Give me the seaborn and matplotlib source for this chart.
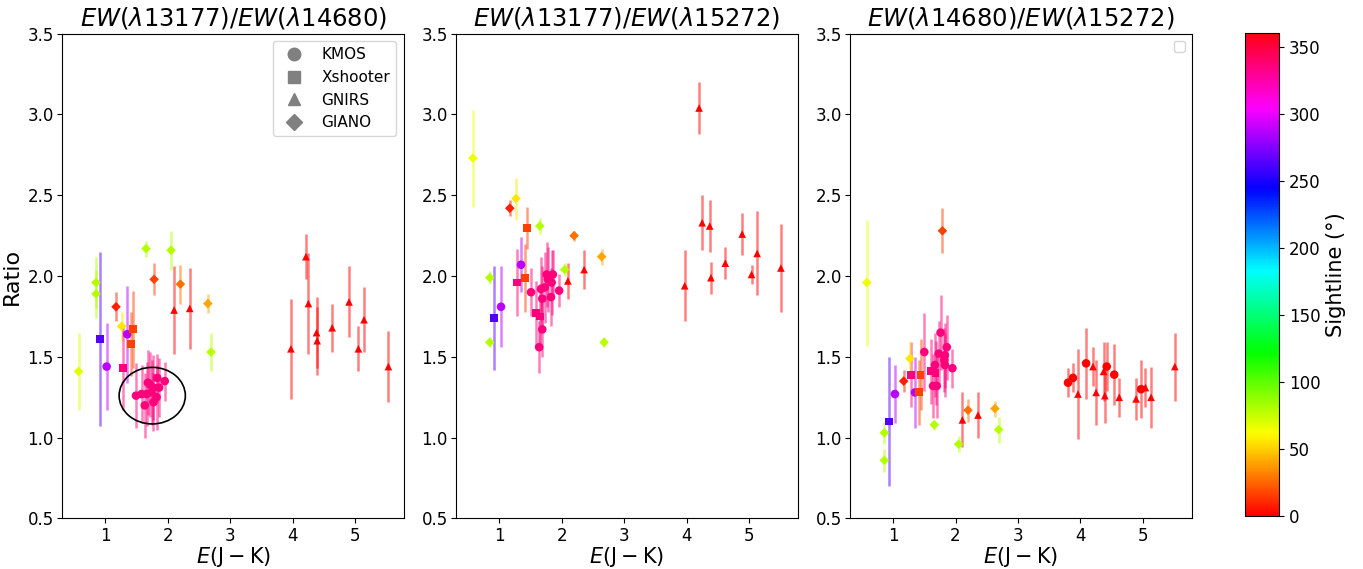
import numpy as np
import pandas as pd
import matplotlib
matplotlib.use("Agg")
import matplotlib.pyplot as plt
import seaborn as sns
from matplotlib.lines import Line2D
from matplotlib.patches import Ellipse
from matplotlib.colors import Normalize
from matplotlib.cm import ScalarMappable

# ---------------- data ----------------
titles = [r"$EW(\lambda13177)/EW(\lambda14680)$",
          r"$EW(\lambda13177)/EW(\lambda15272)$",
          r"$EW(\lambda14680)/EW(\lambda15272)$"]
instruments = ["KMOS", "Xshooter", "GNIRS", "GIANO"]

# Panel 1: EW13177/EW14680
p1_ejk = [0.57, 0.85, 0.85, 0.92, 1.02, 1.17, 1.26, 1.28, 1.35, 1.44, 1.41, 1.65, 1.78, 2.05,
          2.10, 2.20, 2.35, 2.64, 2.69,
          3.97, 4.21, 4.25, 4.38, 4.39, 4.63, 4.90, 5.05, 5.14, 5.53,
          1.49, 1.58, 1.66, 1.68, 1.77, 1.83, 1.86, 1.82, 1.77, 1.63, 1.95, 1.74, 1.71]
p1_ratio = [1.41, 1.96, 1.89, 1.61, 1.44, 1.81, 1.69, 1.43, 1.64, 1.67, 1.58, 2.17, 1.98, 2.16,
            1.79, 1.95, 1.80, 1.83, 1.53,
            1.55, 2.12, 1.83, 1.65, 1.60, 1.68, 1.84, 1.55, 1.73, 1.44,
            1.26, 1.27, 1.27, 1.34, 1.31, 1.37, 1.31, 1.25, 1.22, 1.20, 1.35, 1.28, 1.33]
p1_err = [0.24, 0.16, 0.15, 0.54, 0.27, 0.09, 0.09, 0.26, 0.30, 0.24, 0.20, 0.05, 0.10, 0.12,
          0.27, 0.12, 0.25, 0.06, 0.12,
          0.31, 0.14, 0.31, 0.22, 0.21, 0.15, 0.22, 0.14, 0.20, 0.22,
          0.20, 0.18, 0.20, 0.20, 0.20, 0.15, 0.18, 0.20, 0.18, 0.20, 0.12, 0.20, 0.20]
p1_angle = [68, 80, 80, 264, 288, 8, 56, 336, 288, 16, 16, 80, 16, 80,
            0, 28, 0, 40, 78,
            0, 0, 0, 0, 0, 0, 0, 0, 0, 0,
            336, 336, 336, 336, 336, 336, 336, 336, 336, 336, 336, 336, 336]
p1_inst = ["GIANO", "GIANO", "GIANO", "Xshooter", "KMOS", "GIANO", "GIANO", "Xshooter", "KMOS",
           "Xshooter", "Xshooter", "GIANO", "GIANO", "GIANO",
           "GNIRS", "GIANO", "GNIRS", "GIANO", "GIANO"] + ["GNIRS"] * 10 + ["KMOS"] * 13

# Panel 2: EW13177/EW15272
p2_ejk = [0.58, 1.27, 1.17, 1.45, 1.65, 2.20, 2.64, 1.35, 0.85, 1.29, 1.42, 1.03, 0.92, 0.85,
          2.05, 2.68, 2.10, 2.36,
          4.20, 3.97, 4.25, 4.37, 4.39, 4.62, 4.89, 5.04, 5.13, 5.51,
          1.51, 1.69, 1.64, 1.69, 1.67, 1.73, 1.76, 1.78, 1.84, 1.86, 1.83, 1.96,
          1.59, 1.65]
p2_ratio = [2.73, 2.48, 2.42, 2.30, 2.31, 2.25, 2.12, 2.07, 1.99, 1.96, 1.99, 1.81, 1.74, 1.59,
            2.04, 1.59, 1.97, 2.04,
            3.04, 1.94, 2.33, 2.31, 1.99, 2.08, 2.26, 2.01, 2.14, 2.05,
            1.90, 1.67, 1.56, 1.86, 1.92, 1.93, 2.01, 1.98, 1.96, 2.01, 1.87, 1.91,
            1.77, 1.75]
p2_err = [0.30, 0.13, 0.05, 0.13, 0.05, 0.03, 0.05, 0.17, 0.04, 0.21, 0.21, 0.25, 0.32, 0.03,
          0.04, 0.03, 0.11, 0.12,
          0.16, 0.22, 0.17, 0.16, 0.10, 0.10, 0.13, 0.06, 0.26, 0.27,
          0.15, 0.17, 0.16, 0.20, 0.20, 0.22, 0.20, 0.20, 0.20, 0.15, 0.18, 0.10,
          0.20, 0.20]
p2_angle = [65, 56, 8, 16, 80, 28, 40, 288, 80, 336, 16, 288, 264, 80,
            80, 78, 0, 0,
            0, 0, 0, 0, 0, 0, 0, 0, 0, 0,
            336, 336, 336, 336, 336, 336, 336, 336, 336, 336, 336, 336,
            336, 336]
p2_inst = ["GIANO", "GIANO", "GIANO", "Xshooter", "GIANO", "GIANO", "GIANO", "KMOS", "GIANO",
           "Xshooter", "Xshooter", "KMOS", "Xshooter", "GIANO",
           "GIANO", "GIANO", "GNIRS", "GNIRS"] + ["GNIRS"] * 10 + ["KMOS"] * 12 + ["Xshooter"] * 2

# Panel 3: EW14680/EW15272
p3_ejk = [0.58, 1.79, 1.29, 1.17, 1.27, 1.44, 1.41, 1.35, 1.03, 0.93, 0.86, 0.86, 1.66, 2.05,
          2.20, 2.11, 2.36, 2.63, 2.69,
          3.80, 3.88, 4.09, 4.42, 4.54, 4.97,
          3.96, 4.20, 4.25, 4.37, 4.39, 4.62, 4.89, 5.04, 5.13, 5.51,
          1.50, 1.76, 1.86, 1.73, 1.83, 1.82, 1.67, 1.83, 1.95, 1.64, 1.70,
          1.60, 1.68]
p3_ratio = [1.96, 2.28, 1.39, 1.35, 1.49, 1.39, 1.28, 1.28, 1.27, 1.10, 1.03, 0.86, 1.08, 0.96,
            1.17, 1.11, 1.14, 1.18, 1.05,
            1.34, 1.37, 1.46, 1.44, 1.39, 1.30,
            1.27, 1.44, 1.28, 1.41, 1.26, 1.25, 1.24, 1.31, 1.25, 1.44,
            1.53, 1.65, 1.56, 1.52, 1.51, 1.48, 1.45, 1.45, 1.43, 1.32, 1.32,
            1.41, 1.40]
p3_err = [0.39, 0.14, 0.20, 0.07, 0.10, 0.22, 0.20, 0.22, 0.18, 0.40, 0.07, 0.07, 0.03, 0.05,
          0.07, 0.17, 0.14, 0.05, 0.08,
          0.09, 0.09, 0.22, 0.15, 0.19, 0.18,
          0.28, 0.12, 0.20, 0.18, 0.17, 0.12, 0.13, 0.12, 0.19, 0.21,
          0.24, 0.23, 0.20, 0.20, 0.20, 0.20, 0.20, 0.20, 0.12, 0.20, 0.20,
          0.20, 0.20]
p3_angle = [65, 16, 336, 8, 56, 16, 16, 288, 288, 264, 80, 80, 80, 80,
            28, 0, 0, 40, 78,
            0, 0, 0, 0, 0, 0,
            0, 0, 0, 0, 0, 0, 0, 0, 0, 0,
            336, 336, 336, 336, 336, 336, 336, 336, 336, 336, 336,
            336, 336]
p3_inst = ["GIANO", "GIANO", "Xshooter", "GIANO", "GIANO", "Xshooter", "Xshooter", "KMOS", "KMOS",
           "Xshooter", "GIANO", "GIANO", "GIANO", "GIANO",
           "GIANO", "GNIRS", "GNIRS", "GIANO", "GIANO"] + ["KMOS"] * 6 + ["GNIRS"] * 10 + \
          ["KMOS"] * 11 + ["Xshooter"] * 2

panels = [
    (p1_ejk, p1_ratio, p1_err, p1_angle, p1_inst),
    (p2_ejk, p2_ratio, p2_err, p2_angle, p2_inst),
    (p3_ejk, p3_ratio, p3_err, p3_angle, p3_inst),
]

# ---------------- style ----------------
markers = {"KMOS": "o", "Xshooter": "s", "GNIRS": "^", "GIANO": "D"}
msizes = {"KMOS": 38, "Xshooter": 32, "GNIRS": 30, "GIANO": 24}
cmap = plt.get_cmap("hsv")
norm = Normalize(0, 360)

fig = plt.figure(figsize=(13.63, 5.69), dpi=100)
lefts = [0.0457, 0.3346, 0.6236]
bottom, height, width = 0.0888, 0.852, 0.2507

axes = []
for i, (ejk, ratio, err, angle, inst) in enumerate(panels):
    ax = fig.add_axes([lefts[i], bottom, width, height])
    axes.append(ax)
    df = pd.DataFrame({"ejk": ejk, "ratio": ratio, "err": err, "angle": angle, "inst": inst})
    for _, r in df.iterrows():
        ax.errorbar(r.ejk, r.ratio, yerr=r.err, fmt="none",
                    ecolor=cmap(norm(r.angle)), alpha=0.5, elinewidth=1.8, zorder=1)
    for inst_name in instruments:
        sub = df[df.inst == inst_name]
        if len(sub) == 0:
            continue
        sns.scatterplot(data=sub, x="ejk", y="ratio", hue="angle", palette="hsv",
                        hue_norm=(0, 360), marker=markers[inst_name], s=msizes[inst_name],
                        linewidth=0, legend=False, ax=ax, zorder=3)
    ax.set_ylim(0.5, 3.5)
    ax.set_yticks(np.arange(0.5, 3.51, 0.5))
    ax.set_xlim(0.31, 5.78)
    ax.set_xticks([1, 2, 3, 4, 5])
    ax.tick_params(labelsize=12, pad=2.5)
    ax.set_title(titles[i], fontsize=17.5)
    ax.set_xlabel(r"$E(\mathrm{J-K})$", fontsize=15, labelpad=0)
    if i == 0:
        ax.set_ylabel("Ratio", fontsize=16, labelpad=4)
    else:
        ax.set_ylabel("")

# circled cluster in first panel
axes[0].add_patch(Ellipse((1.75, 1.26), width=1.06, height=0.35, fill=False,
                          edgecolor="black", lw=1.2, zorder=4))

handles = [Line2D([], [], marker=markers[k], color="gray", linestyle="none",
                  markersize=(9 if k != "GIANO" else 8)) for k in instruments]
axes[0].legend(handles, instruments, loc="upper right", fontsize=11)
axes[2].legend(handles=[], loc="upper right")

cax = fig.add_axes([0.9134, 0.0935, 0.025, 0.848])
sm = ScalarMappable(norm=norm, cmap=cmap)
cb = fig.colorbar(sm, cax=cax, ticks=np.arange(0, 351, 50))
cb.ax.tick_params(labelsize=12)
cb.set_label("Sightline (°)", fontsize=15)

fig.savefig("out.png", dpi=100)
